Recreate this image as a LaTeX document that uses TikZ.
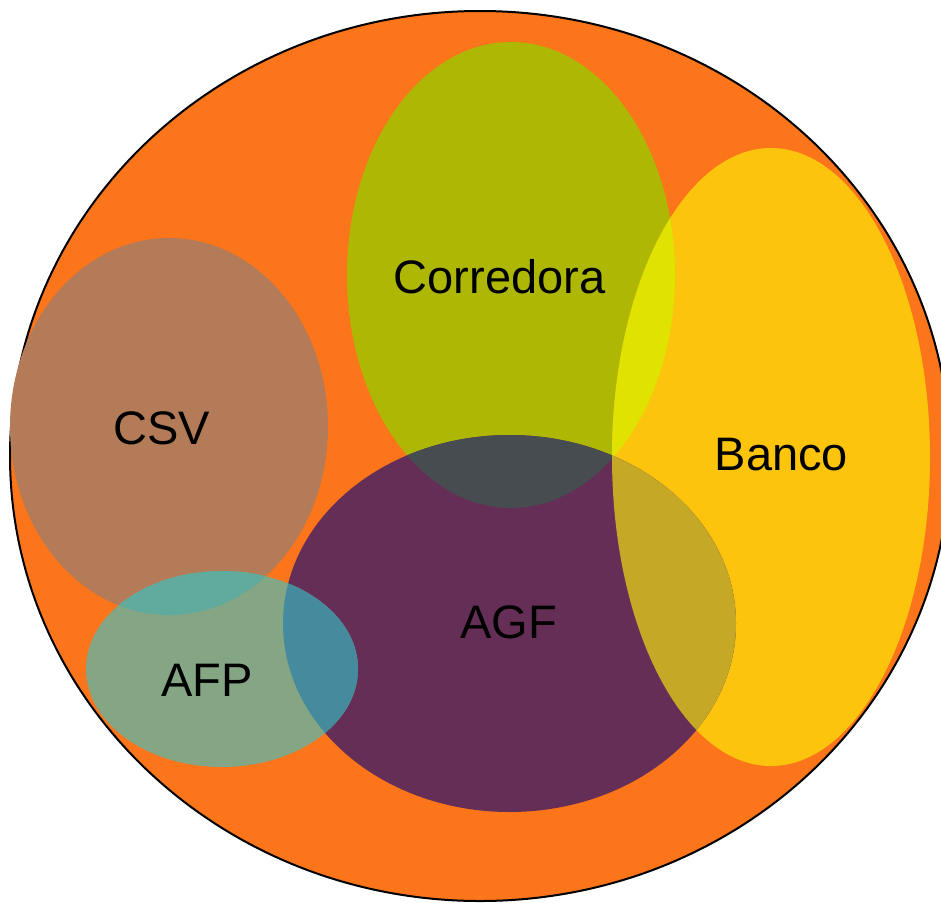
\documentclass[tikz,border=0pt]{standalone}
\usepackage{fontspec}
\setmainfont{Liberation Sans}

\definecolor{fondo}{RGB}{252,117,26}
\definecolor{ccorr}{RGB}{174,184,4}
\definecolor{cbanco}{RGB}{253,196,14}
\definecolor{ccsv}{RGB}{179,123,87}
\definecolor{cagf}{RGB}{101,46,87}
\definecolor{cafp}{RGB}{132,166,133}
\definecolor{corrbanco}{RGB}{224,226,0}
\definecolor{corragf}{RGB}{71,76,80}
\definecolor{agfbanco}{RGB}{196,168,38}
\definecolor{csvafp}{RGB}{96,170,158}
\definecolor{afpagf}{RGB}{70,138,157}

% the five sets
\newcommand{\pcorr}{(511,275) ellipse [x radius=164, y radius=233]}
\newcommand{\pbanco}{(771,457) ellipse [x radius=159, y radius=309]}
\newcommand{\pcsv}{(169,426.5) ellipse [x radius=159, y radius=188.5]}
\newcommand{\pagf}{(509.5,623.5) ellipse [x radius=226.5, y radius=188.5]}
\newcommand{\pafp}{(222,669) ellipse [x radius=136, y radius=98]}

\tikzset{lbl/.style={font=\fontsize{47}{56}\selectfont, text=black, inner sep=0pt}}

\begin{document}
\begin{tikzpicture}[x=1pt,y=-1pt]
\useasboundingbox (0,0) rectangle (941,902);
\clip (0,0) rectangle (941,902);
\draw [fill=fondo, line width=2pt] (480,456) ellipse [x radius=470, y radius=445];

\fill [ccorr] \pcorr;
\fill [cbanco] \pbanco;
\fill [ccsv] \pcsv;
\fill [cagf] \pagf;
\fill [cafp] \pafp;

% overlaps
\begin{scope}
\clip \pcorr;
\fill [corrbanco] \pbanco;
\fill [corragf] \pagf;
\end{scope}
\begin{scope}
\clip \pagf;
\fill [agfbanco] \pbanco;
\fill [afpagf] \pafp;
\end{scope}
\begin{scope}
\clip \pcsv;
\fill [csvafp] \pafp;
\end{scope}

\node [lbl] (corredora) at (499.5,277) {Corredora};
\node [lbl] (banco) at (781.5,455) {Banco};
\node [lbl] (csv) at (161.5,428) {CSV};
\node [lbl] (agf) at (508.5,622) {AGF};
\node [lbl] (afp) at (207,680) {AFP};
\end{tikzpicture}
\end{document}
